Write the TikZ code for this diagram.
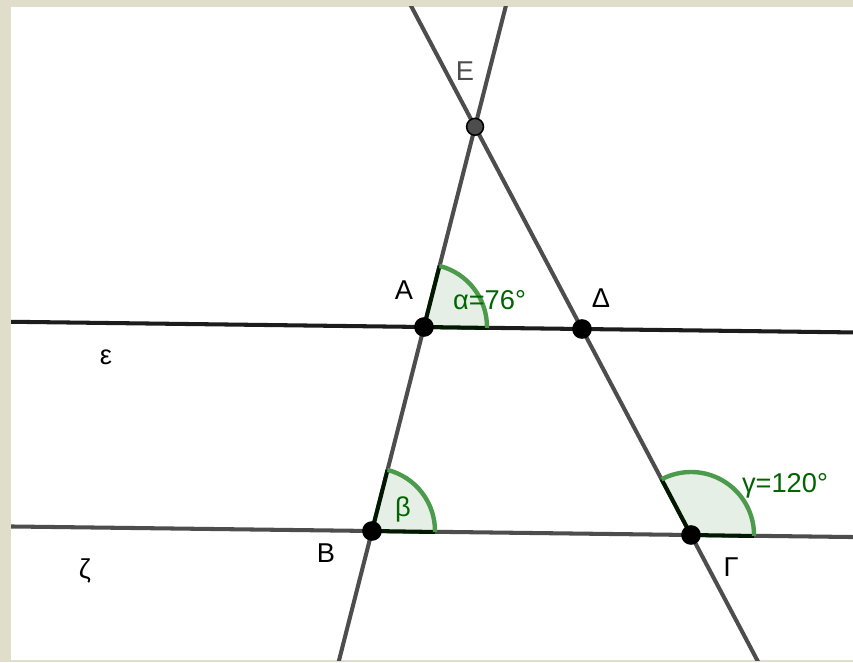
\documentclass[tikz,border=0pt]{standalone}
\usepackage{fontspec}
\setmainfont{Liberation Sans}
\definecolor{framebg}{RGB}{224, 222, 203}
\definecolor{linegray}{RGB}{77, 77, 77}
\definecolor{lineblack}{RGB}{28, 28, 28}
\definecolor{anggreen}{RGB}{0, 100, 0}
\definecolor{arcgreen}{RGB}{76, 154, 76}
\usetikzlibrary{calc}
\tikzset{
	line/.style={line width=2.3pt, draw=linegray},
	darkline/.style={line width=2.3pt, draw=lineblack},
	pt/.style={circle, fill=black, inner sep=0pt, minimum size=11.2pt},
	graypt/.style={circle, fill=linegray, draw=black, line width=0.9pt, inner sep=0pt, minimum size=9.6pt},
	ptlabel/.style={font=\fontsize{15.5}{17}\selectfont, text=black},
	anglabel/.style={font=\fontsize{15.5}{17}\selectfont, text=anggreen},
	angfill/.style={fill=anggreen!10},
	angside/.style={line width=2.3pt, draw=black!75!anggreen},
	angarc/.style={line width=2.5pt, draw=arcgreen},
}

\begin{document}
\begin{tikzpicture}
	\useasboundingbox (0,0) rectangle (17.06,13.24);
	\fill[framebg] (0,0) rectangle (17.06,13.24);
	\fill[white] (0.22,0.04) rectangle (17.06,13.10);
	% points
	\coordinate (A) at (8.48,6.70);
	\coordinate (D) at (11.64,6.66);
	\coordinate (B) at (7.44,2.62);
	\coordinate (G) at (13.82,2.54);
	\coordinate (E) at (intersection of A--B and D--G);
	\begin{scope}
		\clip (0.22,0.04) rectangle (17.06,13.10);
		\draw[darkline] ($(A)!-4!(D)$) -- ($(D)!-4!(A)$);
		\draw[line] ($(B)!-4!(G)$) -- ($(G)!-4!(B)$);
		\draw[line] ($(B)!-1!(A)$) -- ($(B)!3!(A)$);
		\draw[line] ($(G)!-1!(D)$) -- ($(G)!3!(D)$);
		% angles
		\foreach \v/\a/\b in {A/-0.82/75.7, B/-0.88/75.7, G/-0.88/117.8} {
			\fill[angfill] (\v) -- ++(\a:1.26) arc[start angle=\a, end angle=\b, radius=1.26] -- cycle;
			\draw[angside] ($(\v)+(\b:1.26)$) -- (\v) -- ++(\a:1.26);
			\draw[angarc] ($(\v)+(\a:1.26)$) arc[start angle=\a, end angle=\b, radius=1.26];
		}
	\end{scope}
	\node[pt] (nA) at (A) {};
	\node[pt] (nD) at (D) {};
	\node[pt] (nB) at (B) {};
	\node[pt] (nG) at (G) {};
	\node[graypt] (nE) at (E) {};
	% labels
	\node[ptlabel] (lA) at (8.08,7.44) {A};
	\node[ptlabel] (lD) at (12.02,7.28) {Δ};
	\node[ptlabel] (lB) at (6.52,2.18) {B};
	\node[ptlabel] (lG) at (14.62,1.90) {Γ};
	\node[ptlabel, text=linegray] (lE) at (9.30,11.82) {E};
	\node[ptlabel] (leps) at (2.12,6.10) {ε};
	\node[ptlabel] (lzeta) at (1.70,1.82) {ζ};
	\node[anglabel] (lalpha) at (9.79,7.24) {α=76°};
	\node[anglabel] (lbeta) at (8.06,3.06) {β};
	\node[anglabel] (lgamma) at (15.70,3.52) {γ=120°};
\end{tikzpicture}
\end{document}
